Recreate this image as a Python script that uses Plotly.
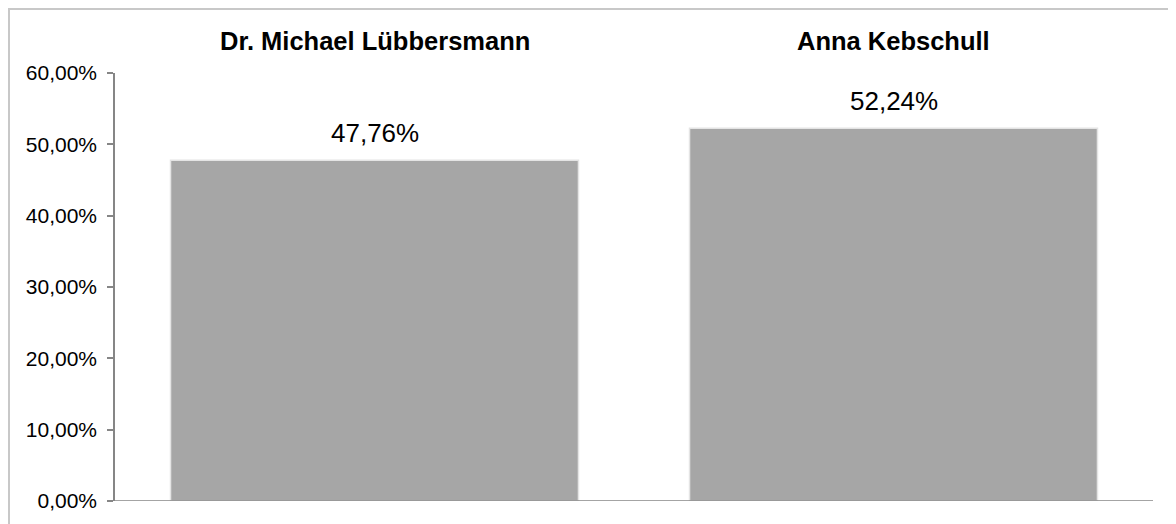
import plotly.graph_objects as go

categories = ["Dr. Michael Lübbersmann", "Anna Kebschull"]
values = [47.76, 52.24]
tick_vals = [0, 10, 20, 30, 40, 50, 60]
tick_text = ["0,00%", "10,00%", "20,00%", "30,00%", "40,00%", "50,00%", "60,00%"]
value_labels = ["47,76%", "52,24%"]

FONT = "Liberation Sans, Arial, sans-serif"
AXIS_COLOR = "#868686"

fig = go.Figure()
fig.add_trace(go.Bar(
    x=categories, y=values,
    marker=dict(color="#A6A6A6", line=dict(color="#E4E4E4", width=1.5)),
    width=0.786,
    hoverinfo="skip",
))

for c, v, t in zip(categories, values, value_labels):
    fig.add_annotation(x=c, y=v, xref="x", yref="y", text=t, showarrow=False,
                       yanchor="bottom", yshift=10,
                       font=dict(family=FONT, size=26, color="#000000"))
    fig.add_annotation(x=c, y=1, xref="x", yref="paper", text="<b>%s</b>" % c,
                       showarrow=False, yanchor="middle", yshift=32,
                       font=dict(family=FONT, size=25.5, color="#000000"))

OFF = 8  # default page body margin
W, H = 1176 - OFF, 524 - OFF
L, R, T, B = 115 - OFF, 23, 73 - OFF, 23
pw, ph = W - L - R, H - T - B

# outer chart border
fig.add_shape(type="rect", xref="paper", yref="paper",
              x0=(1 - L) / pw, x1=(W + 20 - L) / pw,
              y0=-(B + 20) / ph, y1=(H - 1 - B) / ph,
              line=dict(color="#C8C8C8", width=2), fillcolor="rgba(0,0,0,0)", layer="below")
# bottom axis line
fig.add_shape(type="line", xref="paper", yref="y", x0=0, x1=1, y0=0, y1=0,
              line=dict(color=AXIS_COLOR, width=1.5))

fig.update_layout(
    width=W, height=H,
    margin=dict(l=L, r=R, t=T, b=B, pad=0),
    paper_bgcolor="white", plot_bgcolor="white",
    showlegend=False,
    bargap=0.214,
    xaxis=dict(showticklabels=False, showline=False, ticks="", showgrid=False, zeroline=False),
    yaxis=dict(range=[0, 60], tickvals=tick_vals, ticktext=tick_text,
               showline=True, linecolor=AXIS_COLOR, linewidth=1.5,
               ticks="outside", ticklen=6, tickcolor=AXIS_COLOR, tickwidth=1.5,
               ticklabelstandoff=6,
               showgrid=False, zeroline=False,
               tickfont=dict(family=FONT, size=21, color="#000000")),
)

fig.write_html("out.html")
